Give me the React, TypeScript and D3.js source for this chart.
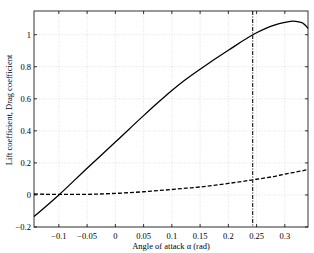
import React, { useEffect, useRef } from 'react';
import * as d3 from 'd3';

// values
const alpha = [-0.144, -0.1, -0.05, 0, 0.05, 0.075, 0.1, 0.125, 0.15, 0.2, 0.25, 0.28, 0.3, 0.315, 0.33, 0.341];
const lift = [-0.135, 0.0, 0.167, 0.33, 0.495, 0.575, 0.652, 0.722, 0.785, 0.903, 1.012, 1.058, 1.077, 1.085, 1.075, 1.04];
const drag = [0.006, 0.003, 0.004, 0.01, 0.02, 0.027, 0.034, 0.042, 0.05, 0.072, 0.098, 0.115, 0.13, 0.14, 0.15, 0.16];
const stallAlpha = 0.243;
const xTicks = [-0.1, -0.05, 0, 0.05, 0.1, 0.15, 0.2, 0.25, 0.3];
const yTicks = [-0.2, 0, 0.2, 0.4, 0.6, 0.8, 1];

const App = () => {
  const svgRef = useRef<SVGSVGElement>(null);

  useEffect(() => {
    if (!svgRef.current) return;
    const svg = d3.select(svgRef.current);
    svg.selectAll('*').remove();

    const width = 314;
    const height = 253;
    const margin = { top: 11, right: 6, bottom: 26, left: 34 };
    const font = "'Liberation Serif', 'Times New Roman', serif";
    const fs = '8.5px';

    const x = d3.scaleLinear().domain([-0.144, 0.341]).range([margin.left, width - margin.right]);
    const y = d3.scaleLinear().domain([-0.2, 1.148]).range([height - margin.bottom, margin.top]);

    svg.attr('width', width).attr('height', height).style('background', '#fff');

    // Grid
    xTicks.forEach((t) => {
      svg.append('line')
        .attr('x1', x(t)).attr('x2', x(t))
        .attr('y1', margin.top).attr('y2', height - margin.bottom)
        .attr('stroke', '#cfcfcf').attr('stroke-width', 0.6)
        .attr('stroke-dasharray', '1,1.5');
    });
    yTicks.forEach((t) => {
      svg.append('line')
        .attr('x1', margin.left).attr('x2', width - margin.right)
        .attr('y1', y(t)).attr('y2', y(t))
        .attr('stroke', '#cfcfcf').attr('stroke-width', 0.6)
        .attr('stroke-dasharray', '1,1.5');
    });

    // Curves
    const pts = (vals: number[]) => alpha.map((a, i) => [a, vals[i]] as [number, number]);
    const line = d3.line<[number, number]>()
      .x((d) => x(d[0]))
      .y((d) => y(d[1]))
      .curve(d3.curveMonotoneX);

    svg.append('path')
      .attr('d', line(pts(lift)))
      .attr('fill', 'none').attr('stroke', '#000').attr('stroke-width', 1.3);

    svg.append('path')
      .attr('d', line(pts(drag)))
      .attr('fill', 'none').attr('stroke', '#000').attr('stroke-width', 1.3)
      .attr('stroke-dasharray', '4,2');

    // Stall line
    svg.append('line')
      .attr('x1', x(stallAlpha)).attr('x2', x(stallAlpha))
      .attr('y1', margin.top).attr('y2', height - margin.bottom)
      .attr('stroke', '#333').attr('stroke-width', 1.3)
      .attr('stroke-dasharray', '4,1.5,1,1.5');

    // Frame
    svg.append('rect')
      .attr('x', margin.left).attr('y', margin.top)
      .attr('width', width - margin.left - margin.right)
      .attr('height', height - margin.top - margin.bottom)
      .attr('fill', 'none').attr('stroke', '#000').attr('stroke-width', 0.8);

    // Ticks and labels
    xTicks.forEach((t) => {
      svg.append('line')
        .attr('x1', x(t)).attr('x2', x(t))
        .attr('y1', height - margin.bottom).attr('y2', height - margin.bottom - 3)
        .attr('stroke', '#000').attr('stroke-width', 0.8);
      svg.append('line')
        .attr('x1', x(t)).attr('x2', x(t))
        .attr('y1', margin.top).attr('y2', margin.top + 3)
        .attr('stroke', '#000').attr('stroke-width', 0.8);
      svg.append('text')
        .attr('x', x(t)).attr('y', height - margin.bottom + 12)
        .attr('text-anchor', 'middle')
        .style('font-family', font).style('font-size', fs)
        .text(d3.format('')(t));
    });
    yTicks.forEach((t) => {
      svg.append('line')
        .attr('x1', margin.left).attr('x2', margin.left + 3)
        .attr('y1', y(t)).attr('y2', y(t))
        .attr('stroke', '#000').attr('stroke-width', 0.8);
      svg.append('line')
        .attr('x1', width - margin.right).attr('x2', width - margin.right - 3)
        .attr('y1', y(t)).attr('y2', y(t))
        .attr('stroke', '#000').attr('stroke-width', 0.8);
      svg.append('text')
        .attr('x', margin.left - 3).attr('y', y(t) + 3)
        .attr('text-anchor', 'end')
        .style('font-family', font).style('font-size', fs)
        .text(d3.format('')(t));
    });

    // Axis titles
    svg.append('text')
      .attr('x', 171)
      .attr('y', height - 4)
      .attr('text-anchor', 'middle')
      .style('font-family', font).style('font-size', fs)
      .text('Angle of attack α (rad)');

    svg.append('text')
      .attr('transform', `translate(12, 110) rotate(-90)`)
      .attr('text-anchor', 'middle')
      .style('font-family', font).style('font-size', fs)
      .text('Lift coefficient, Drag coefficient');
  }, []);

  return (
    <div style={{ position: 'absolute', left: 0, top: 0 }}>
      <svg ref={svgRef}></svg>
    </div>
  );
};

export default App;
